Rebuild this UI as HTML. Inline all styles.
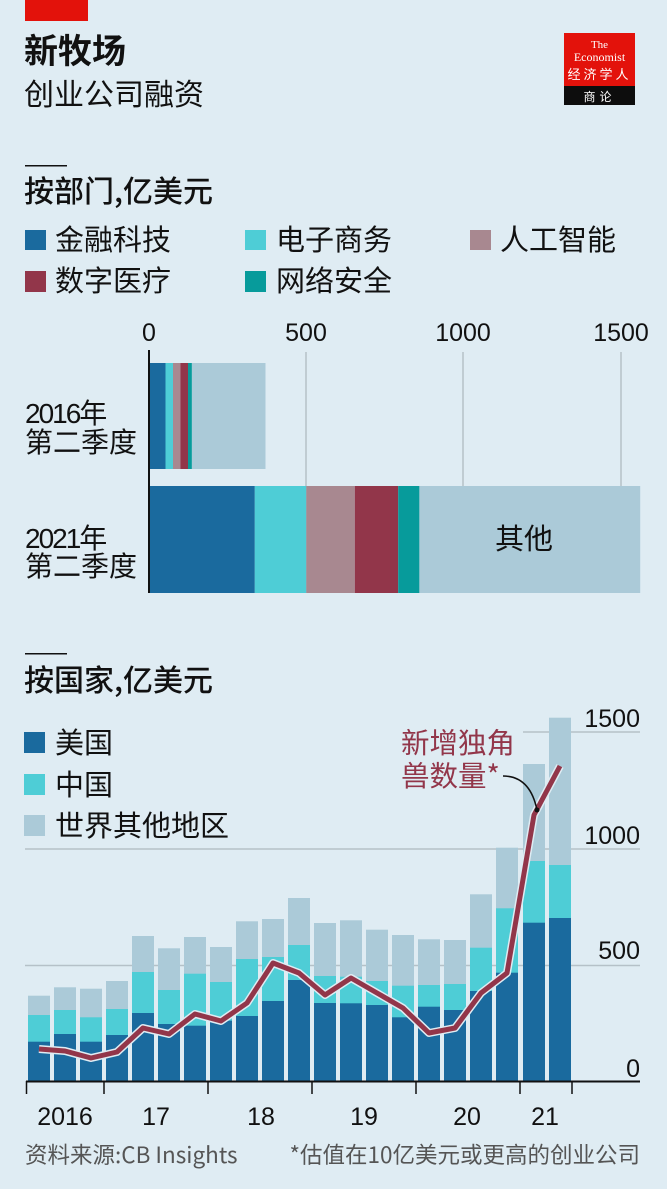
<!DOCTYPE html>
<html><head><meta charset="utf-8"><style>
html,body{margin:0;padding:0;background:#dfecf3;}
svg{display:block;}
text{font-family:"Liberation Sans","Noto Sans CJK SC",sans-serif;}
.cjk{font-family:"Noto Sans CJK SC","Liberation Sans",sans-serif;}
</style></head><body>
<svg width="667" height="1189" viewBox="0 0 667 1189" xmlns="http://www.w3.org/2000/svg">
<rect width="667" height="1189" fill="#dfecf3"/>
<!-- header -->
<rect x="25" y="0" width="63" height="21" fill="#e3120b"/>
<text x="24" y="63" class="cjk" font-size="34" font-weight="bold" fill="#111">新牧场</text>
<text x="24" y="105" class="cjk" font-size="30" fill="#111">创业公司融资</text>
<rect x="564" y="33" width="71" height="53" fill="#e3120b"/>
<rect x="564" y="86" width="71" height="19" fill="#0d0d0d"/>
<text x="599.5" y="48" font-size="11" fill="#fff" text-anchor="middle" style="font-family:'Liberation Serif',serif">The</text>
<text x="599.5" y="61" font-size="12" fill="#fff" text-anchor="middle" style="font-family:'Liberation Serif',serif">Economist</text>
<text x="599.5" y="79" class="cjk" font-size="13" fill="#fff" text-anchor="middle" letter-spacing="3">经济学人</text>
<text x="599.5" y="101" class="cjk" font-size="12" fill="#fff" text-anchor="middle" letter-spacing="4">商论</text>

<!-- section 1 -->
<rect x="25" y="165" width="42" height="1.5" fill="#111"/>
<text x="24" y="202" class="cjk" font-size="30" font-weight="500" fill="#111">按部门,亿美元</text>
<rect x="25" y="230" width="21" height="20" fill="#1a6a9e"/>
<text x="55" y="250" class="cjk" font-size="29" fill="#111">金融科技</text>
<rect x="245" y="230" width="21" height="20" fill="#4ecdd6"/>
<text x="276" y="250" class="cjk" font-size="29" fill="#111">电子商务</text>
<rect x="470" y="230" width="21" height="20" fill="#a88890"/>
<text x="500" y="250" class="cjk" font-size="29" fill="#111">人工智能</text>
<rect x="25" y="271" width="21" height="21" fill="#92364a"/>
<text x="55" y="291" class="cjk" font-size="29" fill="#111">数字医疗</text>
<rect x="245" y="271" width="21" height="21" fill="#079b9b"/>
<text x="276" y="291" class="cjk" font-size="29" fill="#111">网络安全</text>

<!-- top bar chart -->
<g stroke="#b5c1c8" stroke-width="1.5">
<line x1="306" y1="352" x2="306" y2="593"/>
<line x1="463" y1="352" x2="463" y2="593"/>
<line x1="621" y1="352" x2="621" y2="593"/>
</g>
<g font-size="25" fill="#111" text-anchor="middle">
<text x="149" y="341">0</text>
<text x="306" y="341">500</text>
<text x="463" y="341">1000</text>
<text x="621" y="341">1500</text>
</g>
<rect x="149" y="363" width="16.5" height="106" fill="#1a6a9e"/>
<rect x="165.5" y="363" width="7.5" height="106" fill="#4ecdd6"/>
<rect x="173" y="363" width="7.4" height="106" fill="#a88890"/>
<rect x="180.4" y="363" width="7.6" height="106" fill="#92364a"/>
<rect x="188" y="363" width="3.9" height="106" fill="#079b9b"/>
<rect x="191.9" y="363" width="73.6" height="106" fill="#abcad8"/>
<rect x="149" y="486" width="105.8" height="107" fill="#1a6a9e"/>
<rect x="254.8" y="486" width="51.5" height="107" fill="#4ecdd6"/>
<rect x="306.3" y="486" width="48.5" height="107" fill="#a88890"/>
<rect x="354.8" y="486" width="43.4" height="107" fill="#92364a"/>
<rect x="398.2" y="486" width="21.2" height="107" fill="#079b9b"/>
<rect x="419.4" y="486" width="220.8" height="107" fill="#abcad8"/>
<text x="524" y="549" class="cjk" font-size="29" fill="#111" text-anchor="middle">其他</text>
<rect x="148" y="350" width="2" height="243" fill="#111"/>
<g class="cjk" font-size="28" fill="#111">
<text x="25" y="423" letter-spacing="-2">2016年</text>
<text x="25" y="452">第二季度</text>
<text x="25" y="548" letter-spacing="-2">2021年</text>
<text x="25" y="576">第二季度</text>
</g>

<!-- section 2 -->
<rect x="25" y="653" width="42" height="1.5" fill="#111"/>
<text x="24" y="691" class="cjk" font-size="30" font-weight="500" fill="#111">按国家,亿美元</text>

<!-- gridlines -->
<g stroke="#b5c1c8" stroke-width="1.5">
<line x1="25" y1="965.5" x2="640" y2="965.5"/>
<line x1="25" y1="849" x2="640" y2="849"/>
<line x1="523" y1="732" x2="640" y2="732"/>
</g>
<g font-size="25" fill="#111" text-anchor="end">
<text x="640" y="727">1500</text>
<text x="640" y="844">1000</text>
<text x="640" y="959">500</text>
<text x="640" y="1077">0</text>
</g>

<!-- legend -->
<rect x="24" y="732" width="21" height="21" fill="#1a6a9e"/>
<text x="55" y="753" class="cjk" font-size="29" fill="#111">美国</text>
<rect x="24" y="774" width="21" height="21" fill="#4ecdd6"/>
<text x="55" y="795" class="cjk" font-size="29" fill="#111">中国</text>
<rect x="24" y="815" width="21" height="21" fill="#abcad8"/>
<text x="55" y="836" class="cjk" font-size="29" fill="#111">世界其他地区</text>

<g>
<rect x="28" y="995.7" width="22" height="86" fill="#abcad8"/><rect x="28" y="1015" width="22" height="67" fill="#4ecdd6"/><rect x="28" y="1041.7" width="22" height="40" fill="#1a6a9e"/>
<rect x="54" y="987.3" width="22" height="95" fill="#abcad8"/><rect x="54" y="1010" width="22" height="72" fill="#4ecdd6"/><rect x="54" y="1034" width="22" height="48" fill="#1a6a9e"/>
<rect x="80" y="988.7" width="22" height="93" fill="#abcad8"/><rect x="80" y="1017.3" width="22" height="65" fill="#4ecdd6"/><rect x="80" y="1041.7" width="22" height="40" fill="#1a6a9e"/>
<rect x="106" y="981" width="22" height="101" fill="#abcad8"/><rect x="106" y="1009" width="22" height="73" fill="#4ecdd6"/><rect x="106" y="1035" width="22" height="47" fill="#1a6a9e"/>
<rect x="132" y="936" width="22" height="146" fill="#abcad8"/><rect x="132" y="972" width="22" height="110" fill="#4ecdd6"/><rect x="132" y="1013" width="22" height="69" fill="#1a6a9e"/>
<rect x="158" y="948.3" width="22" height="134" fill="#abcad8"/><rect x="158" y="990" width="22" height="92" fill="#4ecdd6"/><rect x="158" y="1024" width="22" height="58" fill="#1a6a9e"/>
<rect x="184" y="937" width="22" height="145" fill="#abcad8"/><rect x="184" y="973.7" width="22" height="108" fill="#4ecdd6"/><rect x="184" y="1025.7" width="22" height="56" fill="#1a6a9e"/>
<rect x="210" y="947" width="22" height="135" fill="#abcad8"/><rect x="210" y="982" width="22" height="100" fill="#4ecdd6"/><rect x="210" y="1020.7" width="22" height="61" fill="#1a6a9e"/>
<rect x="236" y="921.3" width="22" height="161" fill="#abcad8"/><rect x="236" y="959" width="22" height="123" fill="#4ecdd6"/><rect x="236" y="1016" width="22" height="66" fill="#1a6a9e"/>
<rect x="262" y="919" width="22" height="163" fill="#abcad8"/><rect x="262" y="957" width="22" height="125" fill="#4ecdd6"/><rect x="262" y="1001" width="22" height="81" fill="#1a6a9e"/>
<rect x="288" y="898" width="22" height="184" fill="#abcad8"/><rect x="288" y="945" width="22" height="137" fill="#4ecdd6"/><rect x="288" y="980" width="22" height="102" fill="#1a6a9e"/>
<rect x="314" y="923" width="22" height="159" fill="#abcad8"/><rect x="314" y="976" width="22" height="106" fill="#4ecdd6"/><rect x="314" y="1003" width="22" height="79" fill="#1a6a9e"/>
<rect x="340" y="920.3" width="22" height="162" fill="#abcad8"/><rect x="340" y="976.7" width="22" height="105" fill="#4ecdd6"/><rect x="340" y="1003.3" width="22" height="79" fill="#1a6a9e"/>
<rect x="366" y="929.7" width="22" height="152" fill="#abcad8"/><rect x="366" y="981" width="22" height="101" fill="#4ecdd6"/><rect x="366" y="1005" width="22" height="77" fill="#1a6a9e"/>
<rect x="392" y="935" width="22" height="147" fill="#abcad8"/><rect x="392" y="985.7" width="22" height="96" fill="#4ecdd6"/><rect x="392" y="1017.3" width="22" height="65" fill="#1a6a9e"/>
<rect x="418" y="939.3" width="22" height="143" fill="#abcad8"/><rect x="418" y="985" width="22" height="97" fill="#4ecdd6"/><rect x="418" y="1006.7" width="22" height="75" fill="#1a6a9e"/>
<rect x="444" y="940" width="22" height="142" fill="#abcad8"/><rect x="444" y="984" width="22" height="98" fill="#4ecdd6"/><rect x="444" y="1010" width="22" height="72" fill="#1a6a9e"/>
<rect x="470" y="894.3" width="22" height="188" fill="#abcad8"/><rect x="470" y="947.7" width="22" height="134" fill="#4ecdd6"/><rect x="470" y="991" width="22" height="91" fill="#1a6a9e"/>
<rect x="496" y="847.7" width="22" height="234" fill="#abcad8"/><rect x="496" y="908.3" width="22" height="174" fill="#4ecdd6"/><rect x="496" y="972.7" width="22" height="109" fill="#1a6a9e"/>
<rect x="523" y="764" width="22" height="318" fill="#abcad8"/><rect x="523" y="861" width="22" height="221" fill="#4ecdd6"/><rect x="523" y="922.7" width="22" height="159" fill="#1a6a9e"/>
<rect x="549" y="717.7" width="22" height="364" fill="#abcad8"/><rect x="549" y="865" width="22" height="217" fill="#4ecdd6"/><rect x="549" y="918" width="22" height="164" fill="#1a6a9e"/>
</g>

<polyline fill="none" stroke="#dfecf3" stroke-width="8" stroke-linejoin="round" points="39,1049 65,1051 91,1058 117,1052 143,1028 169,1034 195,1014 221,1021 247,1003 273,963 299,973 325,995 351,978 377,993 403,1008 429,1033 455,1028 481,993 507,973 534,815 560,766"/>
<polyline fill="none" stroke="#92364a" stroke-width="5" stroke-linejoin="round" points="39,1049 65,1051 91,1058 117,1052 143,1028 169,1034 195,1014 221,1021 247,1003 273,963 299,973 325,995 351,978 377,993 403,1008 429,1033 455,1028 481,993 507,973 534,815 560,766"/>

<text x="401" y="753" class="cjk" font-size="28.5" fill="#92364a">新增独角</text>
<text x="401" y="786" class="cjk" font-size="28.5" fill="#92364a">兽数量*</text>
<path d="M503,776 Q530,776 537,810" fill="none" stroke="#111" stroke-width="1.5"/>
<circle cx="537" cy="810" r="2.5" fill="#111"/>

<rect x="26" y="1080.5" width="614" height="2" fill="#111"/>
<g stroke="#111" stroke-width="1.5">
<line x1="26.5" y1="1081" x2="26.5" y2="1094"/>
<line x1="104" y1="1081" x2="104" y2="1094"/>
<line x1="208" y1="1081" x2="208" y2="1094"/>
<line x1="312" y1="1081" x2="312" y2="1094"/>
<line x1="416" y1="1081" x2="416" y2="1094"/>
<line x1="520" y1="1081" x2="520" y2="1094"/>
<line x1="572" y1="1081" x2="572" y2="1094"/>
</g>
<g font-size="25" fill="#111" text-anchor="middle">
<text x="65" y="1125">2016</text>
<text x="156" y="1125">17</text>
<text x="261" y="1125">18</text>
<text x="364" y="1125">19</text>
<text x="467" y="1125">20</text>
<text x="545" y="1125">21</text>
</g>
<text x="25" y="1163" class="cjk" font-size="22.5" fill="#555">资料来源:CB Insights</text>
<text x="640" y="1163" class="cjk" font-size="22.5" fill="#555" text-anchor="end">*估值在10亿美元或更高的创业公司</text>
</svg>
</body></html>
